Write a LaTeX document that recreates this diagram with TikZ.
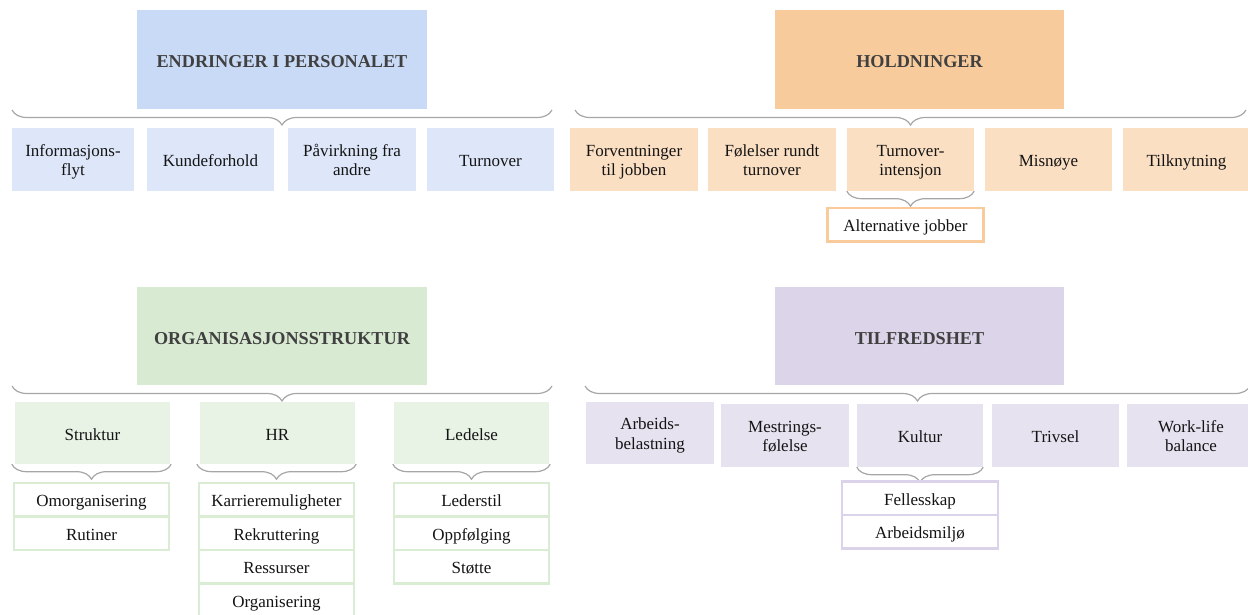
\documentclass[tikz,border=0pt]{standalone}
\usepackage{fontspec}
\setmainfont{Liberation Serif}
\usetikzlibrary{decorations.pathreplacing}

\definecolor{hdrblue}{RGB}{201,218,246}
\definecolor{itemblue}{RGB}{222,231,249}
\definecolor{hdrorange}{RGB}{248,203,157}
\definecolor{itemorange}{RGB}{251,223,195}
\definecolor{lineorange}{RGB}{249,203,156}
\definecolor{hdrgreen}{RGB}{217,234,211}
\definecolor{itemgreen}{RGB}{232,243,229}
\definecolor{linegreen}{RGB}{218,236,212}
\definecolor{hdrpurple}{RGB}{220,212,233}
\definecolor{itempurple}{RGB}{231,226,240}
\definecolor{linepurple}{RGB}{218,211,233}
\definecolor{hdrtext}{RGB}{64,64,64}
\definecolor{bracegray}{RGB}{166,166,166}

\tikzset{
  % invisible struts fixing the baseline of one-line labels
  vstrut/.style 2 args={
    execute at begin node={\rule{0pt}{#1}},
    execute at end node={\rule[-#2]{0pt}{#2}}},
  txtbase/.style={inner sep=0pt, align=center, text=black!92,
    font=\fontsize{17}{19.5}\selectfont, vstrut={18pt}{4pt}},
  twoline/.style={text height=36pt, text depth=4pt},
  hdrbox/.style={txtbase, minimum width=290pt, minimum height=99pt,
    font=\fontsize{18.2}{22}\selectfont\bfseries, text=hdrtext,
    vstrut={20.5pt}{4pt}},
  itembox/.style={txtbase, minimum width=128pt, minimum height=63pt},
  subbox/.style={txtbase, minimum width=155pt, minimum height=33.5pt,
    fill=white, line width=2.5pt},
  bracestyle/.style={decorate, decoration={brace, mirror, amplitude=15pt},
    draw=bracegray, line width=1.2pt},
}

\begin{document}
\begin{tikzpicture}[x=1pt, y=-1pt]
\useasboundingbox (0,0) rectangle (1248,615);

% ---------- Endringer i personalet ----------
\node[hdrbox, fill=hdrblue] (h1) at (282,59.5) {ENDRINGER I PERSONALET};
\node[itembox, twoline, fill=itemblue, minimum width=122pt] (a1) at (73,159.5) {Informasjons-\\flyt};
\node[itembox, fill=itemblue, minimum width=127pt] (a2) at (210.5,159.5) {Kundeforhold};
\node[itembox, twoline, fill=itemblue] (a3) at (352,159.5) {Påvirkning fra\\andre};
\node[itembox, fill=itemblue, minimum width=127pt] (a4) at (490.5,159.5) {Turnover};
\coordinate (a0l) at (12,110);
\coordinate (a0r) at (552,110);
\draw[bracestyle] (a0l) -- (a0r);

% ---------- Holdninger ----------
\node[hdrbox, fill=hdrorange, minimum width=289pt] (h2) at (919.5,59.5) {HOLDNINGER};
\node[itembox, twoline, fill=itemorange] (b1) at (634,159.5) {Forventninger\\til jobben};
\node[itembox, twoline, fill=itemorange] (b2) at (772,159.5) {Følelser rundt\\turnover};
\node[itembox, twoline, fill=itemorange, minimum width=127pt] (b3) at (910.5,159.5) {Turnover-\\intensjon};
\node[itembox, fill=itemorange, minimum width=127pt] (b4) at (1048.5,159.5) {Misnøye};
\node[itembox, fill=itemorange, minimum width=127pt] (b5) at (1186.5,159.5) {Tilknytning};
\coordinate (b0l) at (575,110);
\coordinate (b0r) at (1246,110);
\draw[bracestyle] (b0l) -- (b0r);
\draw[bracestyle] (b3.south west) -- (b3.south east);
\node[subbox, draw=lineorange, minimum width=156pt] (b6) at (905.5,224.5) {Alternative jobber};

% ---------- Organisasjonsstruktur ----------
\node[hdrbox, fill=hdrgreen, minimum height=98pt] (h3) at (282,336) {ORGANISASJONSSTRUKTUR};
\coordinate (c0l) at (12,386);
\coordinate (c0r) at (552,386);
\draw[bracestyle] (c0l) -- (c0r);
\node[itembox, fill=itemgreen, minimum width=155pt, minimum height=62pt] (c1) at (92.5,433) {Struktur};
\node[itembox, fill=itemgreen, minimum width=155pt, minimum height=62pt] (c2) at (277.5,433) {HR};
\node[itembox, fill=itemgreen, minimum width=155pt, minimum height=62pt] (c3) at (471.5,433) {Ledelse};
\draw[bracestyle] ([xshift=-3pt]c1.south west) -- ([xshift=1pt]c1.south east);
\draw[bracestyle] ([xshift=-3pt]c2.south west) -- ([xshift=1pt]c2.south east);
\draw[bracestyle] ([xshift=-1pt]c3.south west) -- ([xshift=1pt]c3.south east);

\node[subbox, draw=linegreen] (c11) at (91.5,499.5) {Omorganisering};
\node[subbox, draw=linegreen] (c12) at (91.5,533) {Rutiner};

\node[subbox, draw=linegreen] (c21) at (276.5,499.5) {Karrieremuligheter};
\node[subbox, draw=linegreen] (c22) at (276.5,533) {Rekruttering};
\node[subbox, draw=linegreen] (c23) at (276.5,566.5) {Ressurser};
\node[subbox, draw=linegreen] (c24) at (276.5,600) {Organisering};

\node[subbox, draw=linegreen] (c31) at (471.5,499.5) {Lederstil};
\node[subbox, draw=linegreen] (c32) at (471.5,533) {Oppfølging};
\node[subbox, draw=linegreen] (c33) at (471.5,566.5) {Støtte};

% ---------- Tilfredshet ----------
\node[hdrbox, fill=hdrpurple, minimum width=289pt, minimum height=98pt] (h4) at (919.5,336) {TILFREDSHET};
\coordinate (d0l) at (585,386);
\coordinate (d0r) at (1250,386);
\draw[bracestyle] (d0l) -- (d0r);
\node[itembox, twoline, fill=itempurple, minimum height=62pt] (d1) at (650,433) {Arbeids-\\belastning};
\node[itembox, twoline, fill=itempurple] (d2) at (785,435.5) {Mestrings-\\følelse};
\node[itembox, fill=itempurple, minimum width=126pt] (d3) at (920,435.5) {Kultur};
\node[itembox, fill=itempurple, minimum width=127pt] (d4) at (1055.5,435.5) {Trivsel};
\node[itembox, twoline, fill=itempurple] (d5) at (1191,435.5) {Work-life\\balance};
\draw[bracestyle] (d3.south west) -- (d3.south east);
\node[subbox, draw=linepurple, minimum width=156pt] (d31) at (920,498) {Fellesskap};
\node[subbox, draw=linepurple, minimum width=156pt] (d32) at (920,531.5) {Arbeidsmiljø};

\end{tikzpicture}
\end{document}
